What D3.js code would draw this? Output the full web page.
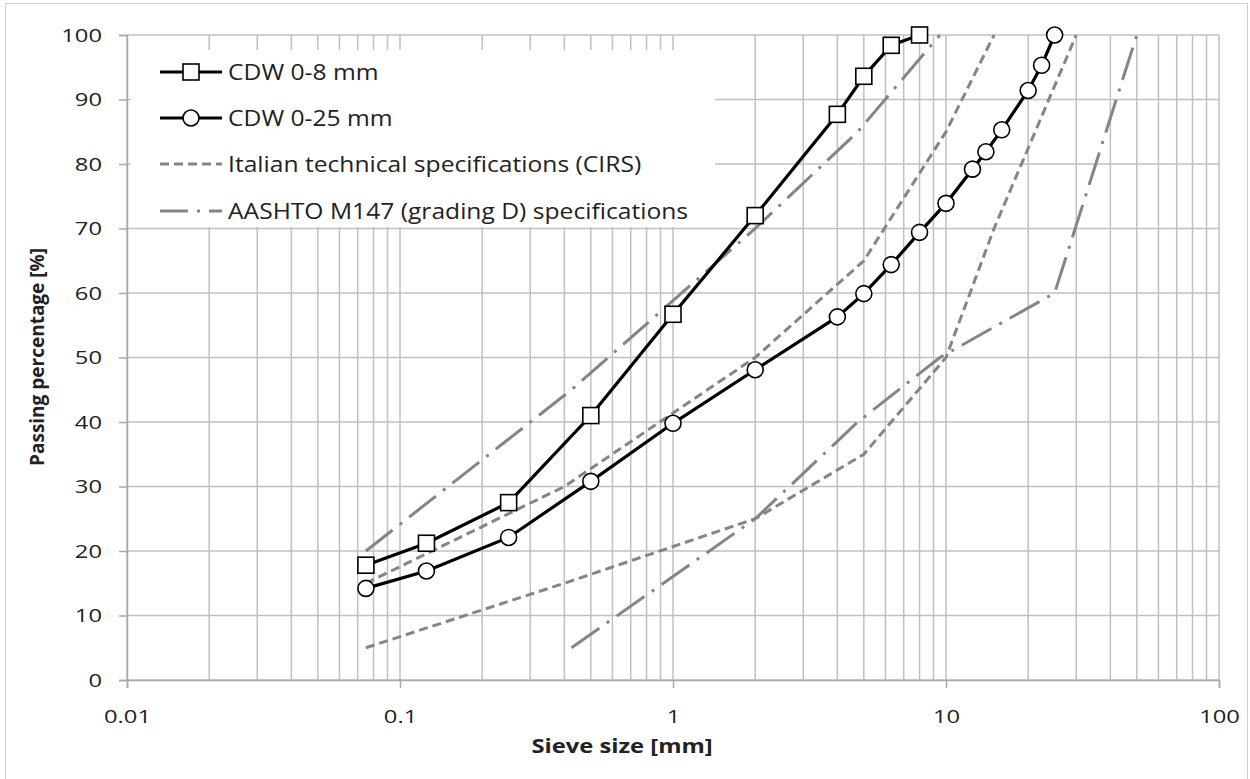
<!DOCTYPE html>
<html>
<head>
<meta charset="utf-8">
<script src="https://cdn.jsdelivr.net/npm/d3@7"></script>
<style>
  body { margin: 0; background: #fff; }
  text { font-family: "Open Sans", sans-serif; fill: #222; }
</style>
</head>
<body>
<div id="chart"></div>
<script>
// grading curves, sieve size in mm -> passing %
const cdw8Sizes = [0.075, 0.125, 0.25, 0.5, 1, 2, 4, 5, 6.3, 8];
const cdw8Pass = [17.8, 21.2, 27.5, 41, 56.7, 72, 87.7, 93.6, 98.4, 100];

const cdw25Sizes = [0.075, 0.125, 0.25, 0.5, 1, 2, 4, 5, 6.3, 8, 10, 12.5, 14, 16, 20, 22.4, 25];
const cdw25Pass = [14.2, 16.9, 22.1, 30.8, 39.8, 48.1, 56.3, 59.9, 64.4, 69.4, 73.9, 79.2, 81.9, 85.3, 91.4, 95.3, 100];

const cirsUpSizes = [0.075, 0.4, 2, 5, 10, 15];
const cirsUpPass = [15, 30, 50, 65, 85, 100];
const cirsLowSizes = [0.075, 0.4, 2, 5, 10, 15, 30];
const cirsLowPass = [5, 15, 25, 35, 50, 70, 100];

const aashtoUpSizes = [0.075, 0.425, 2, 4.75, 9.5];
const aashtoUpPass = [20, 45, 70, 85, 100];
const aashtoLowSizes = [0.425, 2, 4.75, 9.5, 25, 50];
const aashtoLowPass = [5, 25, 40, 50, 60, 100];

const xTicks = [0.01, 0.1, 1, 10, 100];
const yTicks = [0, 10, 20, 30, 40, 50, 60, 70, 80, 90, 100];

const legendLabels = [
  "CDW 0-8 mm",
  "CDW 0-25 mm",
  "Italian technical specifications (CIRS)",
  "AASHTO M147 (grading D) specifications"
];

const width = 1250, height = 779;
const gridColor = "#c0c0c0";
const specColor = "#858585";
const cirsDash = "9,5";
const aashtoDash = "34,9,3,9";
// the original picture is a bit wider than tall, so horizontal text is stretched
const sx = 1.25;

const svg = d3.select("#chart").append("svg")
  .attr("width", width)
  .attr("height", height);

// outer frame
svg.append("rect")
  .attr("x", 5.5).attr("y", 3.5)
  .attr("width", 1242).attr("height", 790)
  .attr("fill", "none")
  .attr("stroke", "#d0d0d0");

const x = d3.scaleLog().domain([0.01, 100]).range([127, 1219]);
const y = d3.scaleLinear().domain([0, 100]).range([680, 35]);

// minor + major vertical grid lines (1..9 in each decade)
let vGrid = [];
for (let dec = 0.01; dec < 100; dec *= 10) {
  for (let k = 1; k <= 9; k++) vGrid.push(+(dec * k).toPrecision(3));
}
vGrid.push(100);

svg.append("g")
  .selectAll("line")
  .data(vGrid)
  .join("line")
  .attr("x1", d => x(d)).attr("x2", d => x(d))
  .attr("y1", y(0)).attr("y2", y(100))
  .attr("stroke", gridColor)
  .attr("stroke-width", 1.5);

svg.append("g")
  .selectAll("line")
  .data(yTicks)
  .join("line")
  .attr("x1", x(0.01)).attr("x2", x(100))
  .attr("y1", d => y(d)).attr("y2", d => y(d))
  .attr("stroke", gridColor)
  .attr("stroke-width", 1.5);

// axes
const xAxis = svg.append("g")
  .attr("transform", `translate(0,${y(0)})`)
  .call(d3.axisBottom(x).tickValues(xTicks).tickSize(8).tickPadding(22)
    .tickFormat(d => String(d)));
const yAxis = svg.append("g")
  .attr("transform", `translate(${x(0.01)},0)`)
  .call(d3.axisLeft(y).tickValues(yTicks).tickSize(8));

[xAxis, yAxis].forEach(g => {
  g.select(".domain").attr("stroke", "#a9a9a9").attr("stroke-width", 1.5);
  g.selectAll(".tick line").attr("stroke", "#a9a9a9").attr("stroke-width", 1.5);
  g.selectAll(".tick text")
    .attr("font-family", "Open Sans, sans-serif")
    .attr("font-size", 19)
    .attr("fill", "#222")
    .attr("transform", `scale(${sx},1)`);
});
yAxis.selectAll(".tick text").attr("x", -25 / sx);

// axis titles
svg.append("text")
  .attr("transform", `translate(622,753) scale(${sx},1)`)
  .attr("text-anchor", "middle")
  .attr("font-size", 19)
  .attr("font-weight", "bold")
  .text("Sieve size [mm]");

svg.append("text")
  .attr("transform", "translate(44,357) rotate(-90)")
  .attr("text-anchor", "middle")
  .attr("font-size", 19)
  .attr("font-weight", "bold")
  .text("Passing percentage [%]");

const line = d3.line().x(d => x(d[0])).y(d => y(d[1]));
const zip = (a, b) => a.map((v, i) => [v, b[i]]);

// specification envelopes
[[cirsUpSizes, cirsUpPass, cirsDash], [cirsLowSizes, cirsLowPass, cirsDash],
 [aashtoUpSizes, aashtoUpPass, aashtoDash], [aashtoLowSizes, aashtoLowPass, aashtoDash]]
  .forEach(([s, p, dash]) => {
    svg.append("path")
      .attr("d", line(zip(s, p)))
      .attr("fill", "none")
      .attr("stroke", specColor)
      .attr("stroke-width", 3)
      .attr("stroke-dasharray", dash);
  });

// measured curves
const cdw8 = zip(cdw8Sizes, cdw8Pass);
const cdw25 = zip(cdw25Sizes, cdw25Pass);

svg.append("path")
  .attr("d", line(cdw25))
  .attr("fill", "none")
  .attr("stroke", "#000")
  .attr("stroke-width", 3.2);
svg.append("g")
  .selectAll("circle")
  .data(cdw25)
  .join("circle")
  .attr("cx", d => x(d[0])).attr("cy", d => y(d[1]))
  .attr("r", 8)
  .attr("fill", "#fff")
  .attr("stroke", "#000")
  .attr("stroke-width", 1.6);

svg.append("path")
  .attr("d", line(cdw8))
  .attr("fill", "none")
  .attr("stroke", "#000")
  .attr("stroke-width", 3.2);
svg.append("g")
  .selectAll("rect")
  .data(cdw8)
  .join("rect")
  .attr("x", d => x(d[0]) - 8).attr("y", d => y(d[1]) - 8)
  .attr("width", 16).attr("height", 16)
  .attr("fill", "#fff")
  .attr("stroke", "#000")
  .attr("stroke-width", 1.6);

// legend
const lg = svg.append("g");
lg.append("rect")
  .attr("x", 131).attr("y", 50)
  .attr("width", 584).attr("height", 177)
  .attr("fill", "#fff");

const rowY = [72, 118, 164, 211];
legendLabels.forEach((label, i) => {
  const yy = rowY[i];
  const isSpec = i >= 2;
  lg.append("line")
    .attr("x1", 160).attr("x2", 222)
    .attr("y1", yy).attr("y2", yy)
    .attr("stroke", isSpec ? specColor : "#000")
    .attr("stroke-width", isSpec ? 3 : 3.2)
    .attr("stroke-dasharray", i === 2 ? cirsDash : i === 3 ? "28,9,3,9" : null);
  if (i === 0) {
    lg.append("rect")
      .attr("x", 183).attr("y", yy - 8)
      .attr("width", 16).attr("height", 16)
      .attr("fill", "#fff").attr("stroke", "#000").attr("stroke-width", 1.6);
  } else if (i === 1) {
    lg.append("circle")
      .attr("cx", 191).attr("cy", yy).attr("r", 8)
      .attr("fill", "#fff").attr("stroke", "#000").attr("stroke-width", 1.6);
  }
  lg.append("text")
    .attr("transform", `translate(228,${yy}) scale(1.12,1)`)
    .attr("dy", "0.35em")
    .attr("font-size", 22)
    .text(label);
});
</script>
</body>
</html>
